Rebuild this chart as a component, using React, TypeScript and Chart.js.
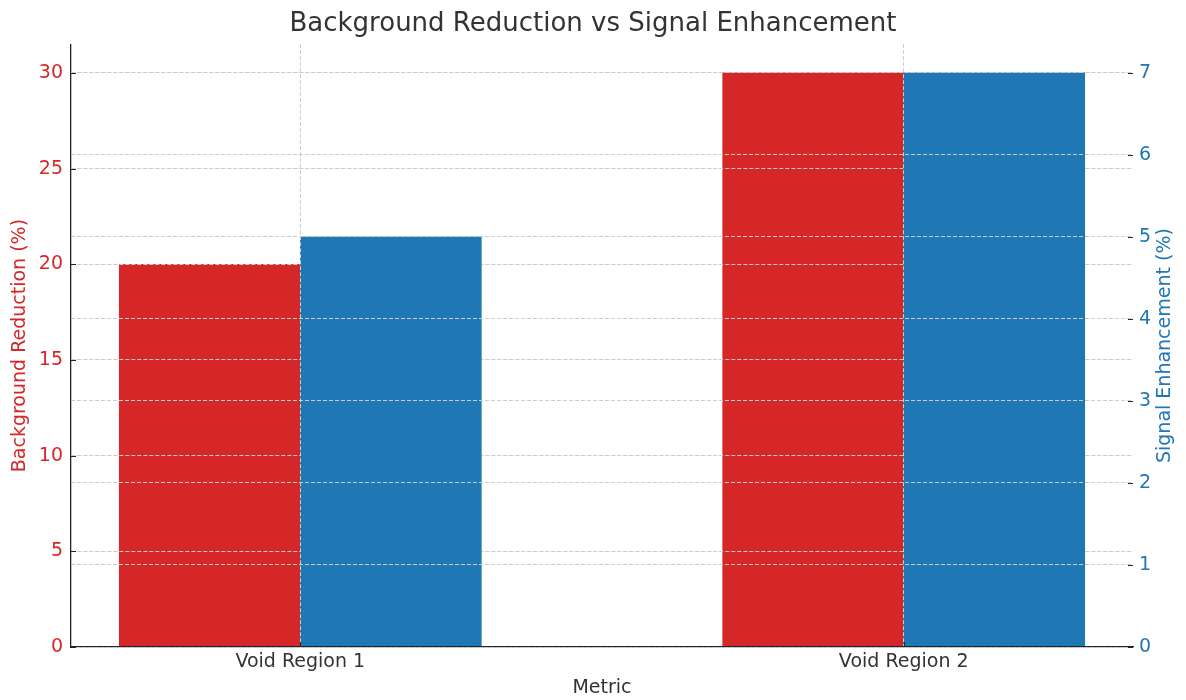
import React, { useEffect, useRef } from "react";
import { Chart, registerables } from "chart.js";

Chart.register(...registerables);

// ---- data ----
const categories = ["Void Region 1", "Void Region 2"];
const backgroundReduction = [20, 30];
const signalEnhancement = [5, 7];
const leftTicks = [0, 5, 10, 15, 20, 25, 30];
const rightTicks = [0, 1, 2, 3, 4, 5, 6, 7];

// ---- style ----
const RED = "#d62728";
const BLUE = "#1f77b4";
const TEXT = "#333333";
const GRID = "#cccccc";
const FONT = "'DejaVu Sans', sans-serif";
const BAR_WIDTH = 0.3;

const layerPlugin = {
  id: "layers",
  afterDatasetDraw(chart: any, args: any) {
    // left-axis grid sits above the red bars but below the blue ones
    if (args.index === 0) {
      const ctx = chart.ctx;
      ctx.save();
      chart.scales.y.drawGrid(chart.chartArea);
      ctx.restore();
    }
  },
  afterDraw(chart: any) {
    const { ctx, chartArea, scales } = chart;
    ctx.save();
    ctx.strokeStyle = "#222222";
    ctx.lineWidth = 1;
    ctx.beginPath();
    leftTicks.forEach((v) => {
      const py = Math.round(scales.y.getPixelForValue(v)) + 0.5;
      ctx.moveTo(chartArea.left, py);
      ctx.lineTo(chartArea.left + 5, py);
    });
    rightTicks.forEach((v) => {
      const py = Math.round(scales.y1.getPixelForValue(v)) + 0.5;
      ctx.moveTo(chartArea.right - 5, py);
      ctx.lineTo(chartArea.right, py);
    });
    categories.forEach((_, i) => {
      const px = Math.round(scales.x.getPixelForValue(i)) + 0.5;
      ctx.moveTo(px, chartArea.bottom);
      ctx.lineTo(px, chartArea.bottom - 5);
    });
    ctx.stroke();

    // right axis title, reading bottom-to-top
    ctx.fillStyle = BLUE;
    ctx.font = `19px ${FONT}`;
    ctx.textAlign = "center";
    ctx.textBaseline = "middle";
    ctx.translate(scales.y1.right - 21, (chartArea.top + chartArea.bottom) / 2);
    ctx.rotate(-Math.PI / 2);
    ctx.fillText("Signal Enhancement (%)", 0, 0);
    ctx.restore();
  },
};

export default function App() {
  const canvasRef = useRef<HTMLCanvasElement | null>(null);

  useEffect(() => {
    if (!canvasRef.current) return;
    const chart = new Chart(canvasRef.current, {
      type: "bar",
      data: {
        datasets: [
          {
            label: "Background Reduction (%)",
            data: categories.map((_, i) => ({ x: i - BAR_WIDTH / 2, y: backgroundReduction[i] })),
            backgroundColor: RED,
            yAxisID: "y",
            grouped: false,
            barPercentage: 1,
            categoryPercentage: 1,
            order: 2,
          } as any,
          {
            label: "Signal Enhancement (%)",
            data: categories.map((_, i) => ({ x: i + BAR_WIDTH / 2, y: signalEnhancement[i] })),
            backgroundColor: BLUE,
            yAxisID: "y1",
            grouped: false,
            barPercentage: 1,
            categoryPercentage: 1,
            order: 1,
          } as any,
        ],
      },
      options: {
        responsive: false,
        animation: false,
        devicePixelRatio: 1,
        layout: { padding: 0 },
        plugins: {
          legend: { display: false },
          tooltip: { enabled: false },
          title: {
            display: true,
            text: "Background Reduction vs Signal Enhancement",
            color: TEXT,
            font: { family: FONT, size: 26, weight: "normal" },
            padding: { top: 9, bottom: 4 },
          },
        },
        scales: {
          x: {
            type: "linear",
            offset: false,
            bounds: "data",
            min: -0.38,
            max: 1.38,
            afterBuildTicks: (scale: any) => {
              scale.ticks = categories.map((_, i) => ({ value: i }));
            },
            afterFit: (scale: any) => {
              scale.height = 53;
            },
            ticks: {
              callback: (v: any) => categories[v] ?? "",
              color: TEXT,
              font: { family: FONT, size: 19 },
              padding: 4,
              maxRotation: 0,
              autoSkip: false,
            },
            grid: { color: GRID, drawTicks: false, offset: false, z: 1 },
            border: { display: true, color: "#222222", width: 1.3, dash: [4, 2], z: 1 },
            title: {
              display: true,
              text: "Metric",
              color: TEXT,
              font: { family: FONT, size: 19 },
              padding: { top: 0, bottom: 1 },
            },
          },
          y: {
            type: "linear",
            position: "left",
            min: 0,
            max: 31.5,
            afterBuildTicks: (scale: any) => {
              scale.ticks = leftTicks.map((v) => ({ value: v }));
            },
            afterFit: (scale: any) => {
              scale.width = 71;
            },
            ticks: {
              color: RED,
              font: { family: FONT, size: 19 },
              padding: 8,
            },
            grid: { color: GRID, drawTicks: false },
            border: { display: true, color: "#222222", width: 1.3, dash: [4, 2] },
            title: {
              display: true,
              text: "Background Reduction (%)",
              color: RED,
              font: { family: FONT, size: 19 },
              padding: { top: 9, bottom: 0 },
            },
          },
          y1: {
            type: "linear",
            position: "right",
            min: 0,
            max: 7.35,
            afterBuildTicks: (scale: any) => {
              scale.ticks = rightTicks.map((v) => ({ value: v }));
            },
            afterFit: (scale: any) => {
              scale.width = 53;
            },
            ticks: {
              color: BLUE,
              font: { family: FONT, size: 19 },
              padding: 6,
            },
            grid: { color: GRID, drawTicks: false, z: 1 },
            border: { display: false, dash: [4, 2] },
          },
        },
      } as any,
      plugins: [layerPlugin],
    });
    return () => chart.destroy();
  }, []);

  return (
    <div style={{ position: "fixed", left: 0, top: 0, width: 1186, height: 700, background: "#ffffff" }}>
      <canvas ref={canvasRef} width={1186} height={700} style={{ display: "block" }} />
    </div>
  );
}
